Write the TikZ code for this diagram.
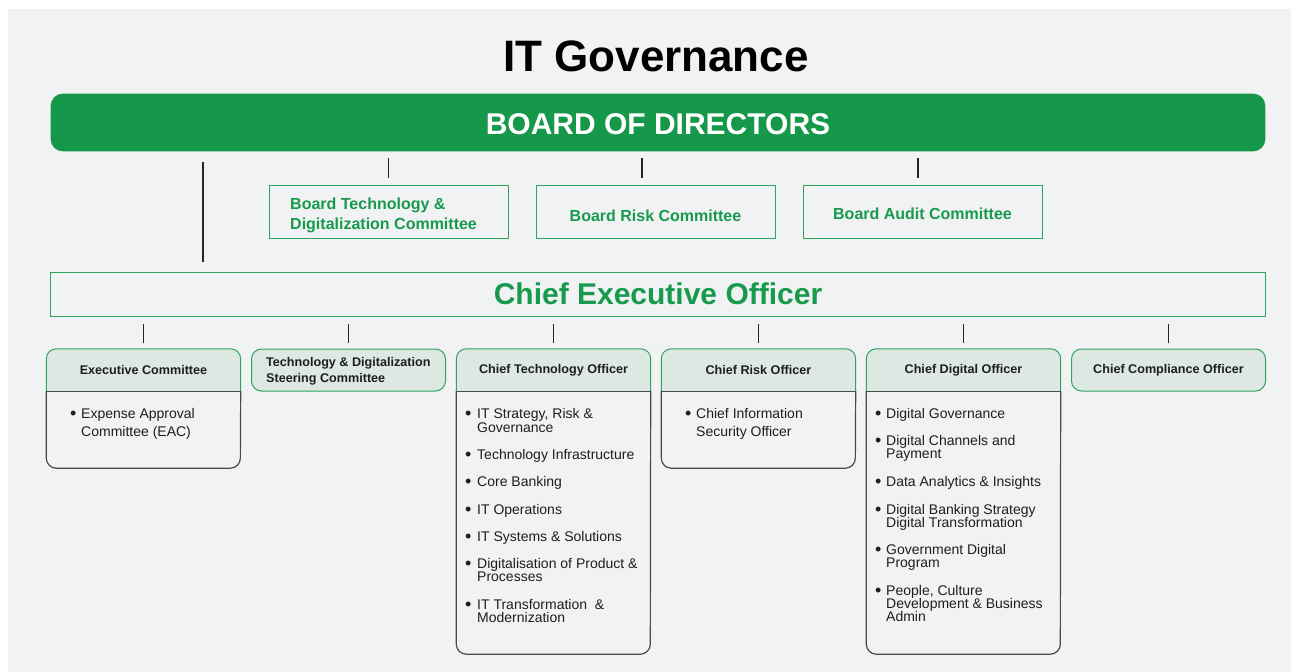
\documentclass[tikz,border=0pt]{standalone}
\usepackage{fontspec}
\setmainfont{Liberation Sans}
\usetikzlibrary{calc}
\definecolor{pagebg}{HTML}{F1F2F4}
\definecolor{bgreen}{HTML}{15984A}
\definecolor{tgreen}{HTML}{179A4C}
\definecolor{hfill}{HTML}{DCE8E1}
\definecolor{hline}{HTML}{2EA35E}
\definecolor{bline}{HTML}{4A4A4A}
\definecolor{txt}{HTML}{1E1E1E}
\pgfdeclarelayer{back}
\pgfdeclarelayer{bg}
\pgfsetlayers{back,bg,main}
\newcommand\li[4]{\node[itm] (#1) at (#2,#3) {#4};}
\newcommand\bu[3]{\node[bul] (#1) at (#2,#3+1) {\textbullet};}
\tikzset{
  titletxt/.style={inner sep=0, text=black, font=\bfseries\fontsize{44}{48}\selectfont},
  boardbox/.style={fill=bgreen, rounded corners=12pt, minimum width=1214.6pt, minimum height=57.6pt, inner sep=0, text=white, font=\bfseries\fontsize{30}{32}\selectfont, text height=23pt, text depth=0pt},
  commbox/.style={draw=hline, line width=1pt, minimum width=239pt, minimum height=53.4pt, inner sep=0, text=tgreen, font=\bfseries\fontsize{16}{20}\selectfont, text depth=0pt},
  commtxt/.style={anchor=base west, inner sep=0, text=tgreen, font=\bfseries\fontsize{16}{20}\selectfont},
  ceobox/.style={draw=hline, line width=1pt, minimum width=1214.6pt, minimum height=44pt, inner sep=0, text=tgreen, font=\bfseries\fontsize{30}{32}\selectfont},
  hdr/.style={minimum width=194pt, minimum height=42pt, inner sep=0, text=txt, align=left, font=\bfseries\fontsize{12.6}{15}\selectfont},
  hdrtxt/.style={anchor=base west, inner sep=0, text=txt, font=\bfseries\fontsize{12.6}{15}\selectfont},
  hdrfill/.style={fill=hfill, draw=hline, line width=1pt},
  hdrbox/.style={hdr, hdrfill, rounded corners=10pt},
  bodyline/.style={draw=bline, line width=1.2pt},
  link/.style={draw=black!85, line width=1.2pt},
  itm/.style={anchor=base west, inner sep=0, text=txt, font=\fontsize{14}{14}\selectfont},
  bul/.style={anchor=base west, inner sep=0, text=txt, font=\fontsize{18}{18}\selectfont},
}
\begin{document}
\begin{tikzpicture}[x=1pt,y=-1pt]
\useasboundingbox (0,0) rectangle (1291,672);
\begin{pgfonlayer}{back}
\fill[white] (0,0) rectangle (1291,672);
\fill[pagebg] (8,9) rectangle (1291,672);
\end{pgfonlayer}

\node[titletxt] (title) at (656,56) {IT Governance};
\node[boardbox] (board) at (658,122.5) {BOARD OF DIRECTORS};

\node[commbox] (btd) at (388.5,212) {};
\node[commtxt] (btd1) at (290,209.7) {Board Technology \&};
\node[commtxt] (btd2) at (290,229.7) {Digitalization Committee};
\node[commbox, text height=18pt] (brc) at (655.5,212) {Board Risk Committee};
\node[commbox, text height=14pt] (bac) at (922.5,212) {Board Audit Committee};

\node[ceobox] (ceo) at (658,294) {Chief Executive Officer};

\coordinate (lx) at (203,0);
\draw[link] ([yshift=-10.7pt]board.south -| lx) -- ([yshift=10pt]ceo.north -| lx);
\draw[link] ([yshift=-6.7pt]board.south -| btd.north) -- ([yshift=7pt]btd.north);
\draw[link] ([yshift=-6.7pt,xshift=-13.5pt]board.south -| brc.north) -- ([yshift=7pt,xshift=-13.5pt]brc.north);
\draw[link] ([yshift=-6.7pt,xshift=-4.5pt]board.south -| bac.north) -- ([yshift=7pt,xshift=-4.5pt]bac.north);

% second level headers
\node[hdr] (exc) at (143.5,370) {Executive Committee};
\node[hdrbox] (tds) at (348.5,370) {};
\node[hdrtxt] (tds1) at (266,366.8) {Technology \& Digitalization};
\node[hdrtxt] (tds2) at (266,382.2) {Steering Committee};
\node[hdr] (cto) at (553.5,370) {Chief Technology Officer};
\node[hdr] (cro) at (758.5,370) {Chief Risk Officer};
\node[hdr] (cdo) at (963.5,370) {Chief Digital Officer};
\node[hdrbox] (cco) at (1168.5,370) {Chief Compliance Officer};

\begin{pgfonlayer}{bg}
\foreach \n/\h in {exc/77, cto/263, cro/77, cdo/263}{
  \fill[hfill] (\n.south west) [rounded corners=10pt] -- (\n.north west) -- (\n.north east) -- (\n.south east);
  \draw[hline, line width=1pt] (\n.south west) [rounded corners=10pt] -- (\n.north west) -- (\n.north east) -- (\n.south east);
  \draw[bodyline] (\n.south west) [rounded corners=10pt] -- ++(0,\h) -- ++(194,0) -- (\n.south east);
  \draw[bodyline] (\n.south west) -- (\n.south east);
}
\end{pgfonlayer}

\foreach \n in {exc,tds,cto,cro,cdo,cco}{
  \draw[link] ([yshift=-7pt]ceo.south -| \n.north) -- ([yshift=6pt]\n.north);
}

% Executive Committee items
\bu{eb1}{70}{418}
\li{e1a}{81}{418}{Expense Approval}
\li{e1b}{81}{436}{Committee (EAC)}

% CTO items
\bu{tb1}{465}{418}\li{t1a}{477}{418}{IT Strategy, Risk \&}\li{t1b}{477}{432}{Governance}
\bu{tb2}{465}{459}\li{t2a}{477}{459}{Technology Infrastructure}
\bu{tb3}{465}{486}\li{t3a}{477}{486}{Core Banking}
\bu{tb4}{465}{514}\li{t4a}{477}{514}{IT Operations}
\bu{tb5}{465}{541}\li{t5a}{477}{541}{IT Systems \& Solutions}
\bu{tb6}{465}{568}\li{t6a}{477}{568}{Digitalisation of Product \&}\li{t6b}{477}{581}{Processes}
\bu{tb7}{465}{609}\li{t7a}{477}{609}{IT Transformation \ \&}\li{t7b}{477}{622}{Modernization}

% CRO items
\bu{rb1}{685}{418}
\li{r1a}{696}{418}{Chief Information}
\li{r1b}{696}{436}{Security Officer}

% CDO items
\bu{db1}{875}{418}\li{d1a}{886}{418}{Digital Governance}
\bu{db2}{875}{445}\li{d2a}{886}{445}{Digital Channels and}\li{d2b}{886}{458}{Payment}
\bu{db3}{875}{486}\li{d3a}{886}{486}{Data Analytics \& Insights}
\bu{db4}{875}{514}\li{d4a}{886}{514}{Digital Banking Strategy}\li{d4b}{886}{527}{Digital Transformation}
\bu{db5}{875}{554}\li{d5a}{886}{554}{Government Digital}\li{d5b}{886}{567}{Program}
\bu{db6}{875}{595}\li{d6a}{886}{595}{People, Culture}\li{d6b}{886}{608}{Development \& Business}\li{d6c}{886}{621}{Admin}
\end{tikzpicture}
\end{document}
